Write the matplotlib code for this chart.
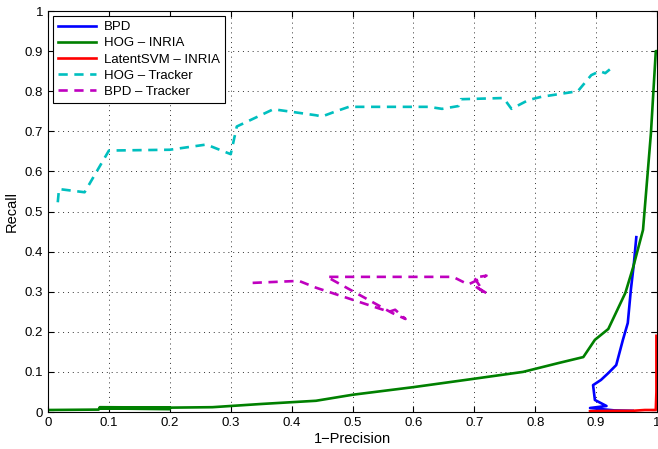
import matplotlib
matplotlib.use('Agg')
import matplotlib.pyplot as plt

# 1-precision / recall values
bpd_x = [0.966, 0.962, 0.957, 0.952, 0.944, 0.933, 0.920, 0.908, 0.895, 0.898, 0.917, 0.890, 0.930, 0.960]
bpd_y = [0.436, 0.370, 0.304, 0.222, 0.180, 0.117, 0.097, 0.080, 0.067, 0.030, 0.015, 0.010, 0.004, 0.003]

hog_x = [0.0, 0.083, 0.085, 0.2, 0.2, 0.085, 0.27, 0.35, 0.44, 0.5, 0.6, 0.7, 0.78, 0.838,
         0.879, 0.898, 0.92, 0.948, 0.961, 0.977, 0.99, 0.998, 1.0]
hog_y = [0.005, 0.006, 0.012, 0.011, 0.007, 0.009, 0.012, 0.02, 0.028, 0.043, 0.062, 0.083, 0.1, 0.122,
         0.137, 0.18, 0.207, 0.297, 0.362, 0.454, 0.695, 0.9, 0.9]

lsvm_x = [0.89, 0.93, 0.96, 0.98, 0.998, 0.999, 0.999]
lsvm_y = [0.002, 0.003, 0.003, 0.005, 0.005, 0.05, 0.19]

hogtr_x = [0.016, 0.018, 0.06, 0.1, 0.2, 0.26, 0.3, 0.31, 0.37, 0.44, 0.45, 0.473, 0.494, 0.625,
           0.647, 0.674, 0.678, 0.748, 0.761, 0.789, 0.81, 0.87, 0.892, 0.906, 0.915, 0.923]
hogtr_y = [0.523, 0.556, 0.548, 0.652, 0.654, 0.667, 0.643, 0.712, 0.755, 0.74, 0.737, 0.75, 0.761, 0.761,
           0.756, 0.763, 0.78, 0.783, 0.756, 0.778, 0.786, 0.80, 0.84, 0.85, 0.845, 0.855]

bpdtr_x = [0.336, 0.412, 0.44, 0.5, 0.56, 0.57, 0.587, 0.565, 0.458, 0.665, 0.69, 0.72, 0.70, 0.715,
           0.70, 0.728]
bpdtr_y = [0.322, 0.327, 0.31, 0.28, 0.25, 0.255, 0.232, 0.247, 0.337, 0.337, 0.318, 0.34, 0.335, 0.30,
           0.315, 0.289]

plt.rcParams['font.family'] = ['Liberation Sans', 'DejaVu Sans']

fig = plt.figure(figsize=(6.58, 4.49), dpi=100)
ax = fig.add_axes([0.073, 0.0824, 0.9255, 0.8931])

ax.plot(bpd_x, bpd_y, color='#0000ff', lw=1.9, label='BPD')
ax.plot(hog_x, hog_y, color='#008000', lw=1.9, label='HOG \u2013 INRIA')
ax.plot(lsvm_x, lsvm_y, color='#ff0000', lw=1.9, label='LatentSVM \u2013 INRIA')
ax.plot(hogtr_x, hogtr_y, color='#00bfbf', lw=1.9, ls=(0, (3.5, 2.5)), label='HOG \u2013 Tracker')
ax.plot(bpdtr_x, bpdtr_y, color='#bf00bf', lw=1.9, ls=(0, (3.5, 2.5)), label='BPD \u2013 Tracker')

ax.set_xlim(0, 1)
ax.set_ylim(0, 1)
ax.set_xticks([i / 10 for i in range(11)])
ax.set_yticks([i / 10 for i in range(11)])
ax.set_xticklabels(['0', '0.1', '0.2', '0.3', '0.4', '0.5', '0.6', '0.7', '0.8', '0.9', '1'])
ax.set_yticklabels(['0', '0.1', '0.2', '0.3', '0.4', '0.5', '0.6', '0.7', '0.8', '0.9', '1'])
ax.tick_params(direction='in', top=True, right=True, labelsize=9.5, length=4)
ax.grid(True, ls=(0, (1, 4)), color='#333333', lw=0.7)
ax.set_xlabel('1\u2212Precision', fontsize=10.5, labelpad=2)
ax.set_ylabel('Recall', fontsize=10.5, labelpad=4)

leg = ax.legend(loc='upper left', fontsize=9.5, fancybox=False, edgecolor='black',
                framealpha=1, handlelength=2.9, handletextpad=0.6, borderpad=0.35,
                labelspacing=0.3, borderaxespad=0.4)
leg.get_frame().set_linewidth(0.8)

fig.savefig('out.png', dpi=100)
